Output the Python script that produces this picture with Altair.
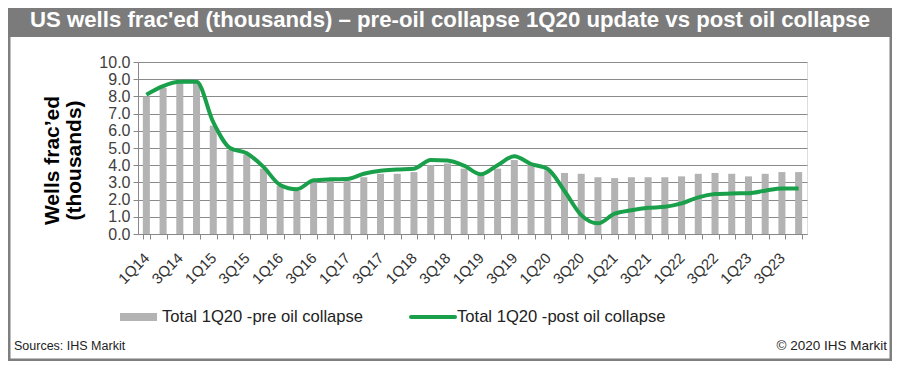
import altair as alt
import pandas as pd

quarters = [f"{q}Q{y}" for y in range(14, 24) for q in range(1, 5)]
pre_collapse = [8.0, 8.5, 8.8, 8.8, 6.3, 4.9, 4.6, 3.8, 2.8, 2.5,
                3.0, 3.1, 3.1, 3.3, 3.5, 3.5, 3.6, 4.0, 4.1, 3.8,
                3.4, 3.8, 4.3, 4.0, 3.7, 3.55, 3.5, 3.3, 3.25, 3.3,
                3.3, 3.3, 3.35, 3.5, 3.55, 3.5, 3.35, 3.5, 3.6, 3.6]
post_collapse = [8.1, 8.6, 8.85, 8.85, 6.5, 5.0, 4.7, 3.9, 2.85, 2.6,
                 3.12, 3.18, 3.2, 3.5, 3.68, 3.75, 3.8, 4.3, 4.27, 3.97,
                 3.47, 4.0, 4.52, 4.07, 3.78, 2.5, 1.1, 0.62, 1.18, 1.38,
                 1.52, 1.58, 1.78, 2.13, 2.32, 2.36, 2.37, 2.52, 2.65, 2.65]
y_ticks = [0.0, 1.0, 2.0, 3.0, 4.0, 5.0, 6.0, 7.0, 8.0, 9.0, 10.0]

title_text = "US wells frac'ed (thousands) \u2013 pre-oil collapse 1Q20 update vs post oil collapse"
pre_label = "Total 1Q20 -pre oil collapse"
post_label = "Total 1Q20 -post oil collapse"

df = pd.DataFrame({"quarter": quarters, "pre": pre_collapse, "post": post_collapse})

FONT = "Liberation Sans"
W, H = 669, 172
PAD_L, PAD_T = 130, 54
TOTAL_W, TOTAL_H = 884, 353

y_scale = alt.Scale(domain=[0, 10], nice=False, zero=True)

y_axis = alt.Axis(
    values=y_ticks, tickCount=len(y_ticks) + 2, format=".1f", labelFont=FONT, labelFontSize=16,
    labelColor="#404040", tickSize=5, tickColor="#888888", labelOverlap=False,
    domainColor="#888888", grid=True, gridColor="#8a8a8a", gridWidth=1, labelPadding=3,
    title=["Wells frac\u2019ed", "(thousands)"],
    titleFont=FONT, titleFontSize=21, titleFontWeight="bold",
    titleColor="#000000", titleAngle=270, titleAlign="center",
    titleBaseline="top", titleX=-97, titleY=98, titleLineHeight=22,
)

x_axis = alt.Axis(
    labelExpr="(indexof(datum.label,'1Q')==0 || indexof(datum.label,'3Q')==0) ? datum.label : ''",
    labelAngle=315, labelAlign="right", labelBaseline="middle",
    labelFont=FONT, labelFontSize=15, labelColor="#333333",
    labelPadding=16, tickBand="extent", tickSize=5, tickColor="#888888",
    domainColor="#888888", grid=False, labelOverlap=False,
)
x_scale = alt.Scale(paddingInner=0.58, paddingOuter=0.29)

bars = alt.Chart(df).mark_bar(color="#b3b3b3").encode(
    x=alt.X("quarter:N", sort=quarters, title=None, scale=x_scale, axis=x_axis),
    y=alt.Y("pre:Q", scale=y_scale, axis=y_axis),
)

line = alt.Chart(df).mark_line(color="#1a9f4b", strokeWidth=4, interpolate="monotone").encode(
    x=alt.X("quarter:N", sort=quarters, title=None, scale=x_scale, axis=x_axis),
    y=alt.Y("post:Q", scale=y_scale, axis=y_axis),
)

one = pd.DataFrame({"k": [0]})

border = alt.Chart(one).mark_rect(fill="transparent", stroke="#7f7f7f", strokeWidth=3).encode(
    x=alt.value(-PAD_L + 1), x2=alt.value(TOTAL_W - PAD_L - 1),
    y=alt.value(-PAD_T + 1), y2=alt.value(TOTAL_H - PAD_T - 1),
)

title_bar = alt.Chart(one).mark_rect(fill="#7b7b7b").encode(
    x=alt.value(-PAD_L), x2=alt.value(TOTAL_W - PAD_L),
    y=alt.value(-PAD_T), y2=alt.value(37 - 62),
)

title = alt.Chart(one).mark_text(
    text=title_text, font=FONT, fontSize=22.2, fontWeight="bold", color="white",
    align="center", baseline="middle",
).encode(x=alt.value(450 - 138), y=alt.value(20 - 62))

leg_rect = alt.Chart(one).mark_rect(fill="#b3b3b3").encode(
    x=alt.value(120 - 138), x2=alt.value(157 - 138),
    y=alt.value(313 - 62), y2=alt.value(321 - 62),
)
leg_line = alt.Chart(one).mark_rule(color="#1a9f4b", strokeWidth=4, strokeCap="round").encode(
    x=alt.value(411 - 138), x2=alt.value(455 - 138), y=alt.value(317 - 62),
)
leg_text1 = alt.Chart(one).mark_text(
    text=pre_label, font=FONT, fontSize=16.6, color="#222222", align="left", baseline="middle",
).encode(x=alt.value(162 - 138), y=alt.value(317 - 62))
leg_text2 = alt.Chart(one).mark_text(
    text=post_label, font=FONT, fontSize=16.6, color="#222222", align="left", baseline="middle",
).encode(x=alt.value(457 - 138), y=alt.value(317 - 62))

src = alt.Chart(one).mark_text(
    text="Sources: IHS Markit", font=FONT, fontSize=12.5, color="#222222", align="left", baseline="middle",
).encode(x=alt.value(14 - 138), y=alt.value(346 - 62))
copy = alt.Chart(one).mark_text(
    text="\u00a9 2020 IHS Markit", font=FONT, fontSize=13.5, color="#222222", align="right", baseline="middle",
).encode(x=alt.value(887 - 138), y=alt.value(346 - 62))

chart = alt.layer(
    border, title_bar, title, bars, line, leg_rect, leg_line, leg_text1, leg_text2, src, copy
).properties(
    width=W, height=H,
    autosize=alt.AutoSizeParams(type="none"),
    padding={"left": PAD_L, "top": PAD_T, "right": TOTAL_W - PAD_L - W, "bottom": TOTAL_H - PAD_T - H},
).configure_view(stroke=None).configure(background="white")

chart.save("out.html", embed_options={"renderer": "svg", "actions": False})
